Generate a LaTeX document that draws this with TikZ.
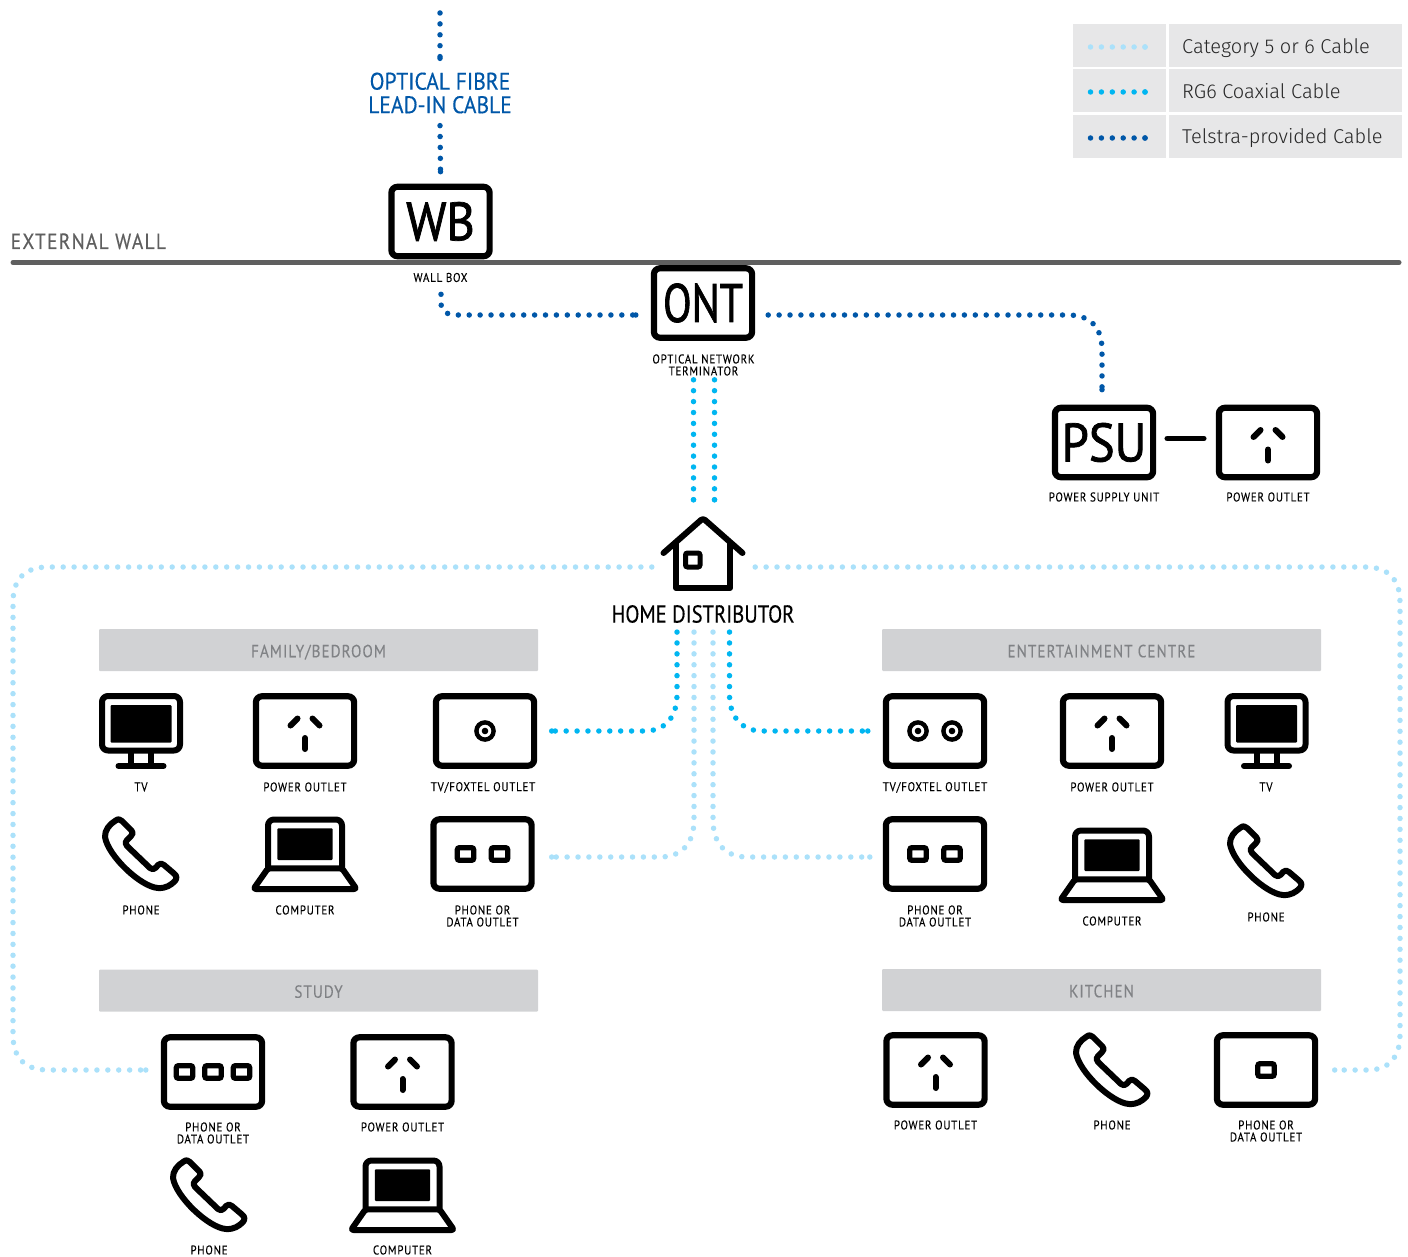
\documentclass[tikz,border=0pt]{standalone}
\usepackage{fontspec}
\usetikzlibrary{decorations.markings}
\setmainfont{PT Sans}
\newfontfamily\dinfont[FakeStretch=0.84,FakeBold=0.25]{PT Sans}
\newfontfamily\dinwide[FakeStretch=0.9,FakeBold=0.4]{PT Sans}
\newfontfamily\dinabbr[FakeStretch=0.9,FakeBold=1.4]{PT Sans}
\newfontfamily\dinlabel[FakeStretch=0.86,LetterSpace=6,FakeBold=0.15]{PT Sans}
\newfontfamily\dinwall[FakeStretch=0.88,LetterSpace=6,FakeBold=0.4]{PT Sans}
\newfontfamily\legendfont{Fira Sans Light}
\definecolor{telstra}{HTML}{0057A8}
\definecolor{coax}{HTML}{00B6F1}
\definecolor{cat}{HTML}{ABE1FA}
\definecolor{wallgrey}{HTML}{5F5F5F}
\definecolor{banner}{HTML}{D1D2D4}
\definecolor{bannertext}{HTML}{808285}
\definecolor{cell}{HTML}{E7E7E8}
\tikzset{
  x=1pt,y=-1pt,
  cable/.style={line width=5.5pt,line cap=round,dash pattern=on 0pt off 10.9pt,
    postaction={decorate,decoration={markings,mark=at position 1 with {\fill[#1] (0,0) circle[radius=2.75pt];}}},draw=#1},
  telstraline/.style={cable=telstra},
  coaxline/.style={cable=coax},
  catline/.style={cable=cat},
  devbox/.style={draw=black,line width=6.2pt,rounded corners=6pt,minimum width=98.2pt,minimum height=69.4pt,inner sep=0pt,fill=white},
  abbr/.style={font=\dinabbr\fontsize{54}{54}\selectfont},
  lbl/.style={font=\dinlabel\fontsize{12.7}{13}\selectfont,align=center,inner sep=0pt,text=black},
  ghost/.style={inner sep=0pt,minimum width=84pt,minimum height=76pt},
  bannerbox/.style={fill=banner,rounded corners=1pt,minimum width=439pt,minimum height=42pt,inner sep=0pt,text height=14.5pt,text depth=0pt,font=\dinlabel\fontsize{17.6}{18}\selectfont,text=bannertext},
  cellbox/.style={fill=cell,inner sep=0pt,minimum height=43.5pt},
  legtext/.style={font=\legendfont\fontsize{20}{22}\selectfont,text=black!85,anchor=base west,inner sep=0pt},
  ink/.style={draw=black,line width=6pt,line cap=round,line join=round},
  pics/pins/.style={code={
    \draw[ink] (-14.5,-5.5) -- (-7.5,-12.5);
    \draw[ink] (14.5,-5.5) -- (7.5,-12.5);
    \draw[ink] (0,7) -- (0,18);
  }},
  pics/ring/.style={code={
    \draw[draw=black,line width=4.4pt] (0,0) circle[radius=8.6pt];
    \fill[black] (0,0) circle[radius=3.3pt];
  }},
  pics/sock/.style={code={
    \draw[draw=black,line width=5.2pt,rounded corners=2pt] (-8.2,-6.3) rectangle (8.2,6.3);
  }},
  pics/tvicon/.style={code={
    \draw[ink,rounded corners=6pt] (-39,-35) rectangle (39,19.5);
    \fill[black,rounded corners=1pt] (-30.5,-26) rectangle (30.5,11.5);
    \draw[draw=black,line width=6pt] (-10,19.5) -- (-10,35) (10,19.5) -- (10,35);
    \draw[ink] (-22.5,35) -- (22.5,35);
  }},
  pics/phoneicon/.style={code={
    \draw[ink] (-26,-33) .. controls (-23,-35.5) and (-21,-35) .. (-19,-33) -- (-9.5,-23.5)
      .. controls (-7.5,-21.5) and (-8,-20) .. (-10,-18) -- (-14,-14)
      .. controls (-16,-12) and (-16,-10.5) .. (-14,-8) -- (9,14)
      .. controls (11,16) and (13,15.5) .. (15,13.5) -- (17,11)
      .. controls (19,9) and (21,9) .. (23,11) -- (33,19.5)
      .. controls (36,22) and (36,24) .. (34,27)
      .. controls (30,31) and (25,34.5) .. (17,34)
      .. controls (0,33) and (-33,2) .. (-36,-17)
      .. controls (-36.5,-24) and (-31,-30) .. (-26,-33) -- cycle;
  }},
  pics/laptopicon/.style={code={
    \draw[ink,rounded corners=6pt] (-37,14.3) -- (-37,-34.5) -- (37,-34.5) -- (37,14.3);
    \fill[black,rounded corners=1pt] (-27.7,-25.7) rectangle (27.7,6);
    \draw[ink,rounded corners=2.5pt] (-37,14.3) -- (37,14.3) -- (51.5,35) -- (-51.5,35) -- cycle;
  }},
  pics/houseicon/.style={code={
    \draw[ink] (-39.5,0) -- (-2,-33) .. controls (-1,-34) and (1,-34) .. (2,-33) -- (39.5,0);
    \draw[ink] (-27,-10) -- (-27,35) -- (27,35) -- (27,-10);
    \draw[draw=black,line width=5pt,rounded corners=2pt] (-17.5,0) rectangle (-3,14);
  }},
}
\newcommand{\device}[4]{\node[devbox,abbr] (#1) at (#2,#3) {#4};}
\newcommand{\blank}[3]{\node[devbox] (#1) at (#2,#3) {};}
\newcommand{\ghostat}[3]{\node[ghost] (#1) at (#2,#3) {};}
\begin{document}
\begin{tikzpicture}
\useasboundingbox (0,0) rectangle (1408,1257);
% wall
\coordinate (wallL) at (13,262.5);
\coordinate (wallR) at (1399,262.5);
\draw[wallgrey,line width=5pt,line cap=round] (wallL) -- (wallR);
\node[font=\dinwall\fontsize{22}{22}\selectfont,text=wallgrey,anchor=base west,inner sep=0pt] (extwall) at (10.5,249) {EXTERNAL WALL};
% legend
\node[cellbox,minimum width=93pt] (c1) at (1119.5,45.5) {};
\node[cellbox,minimum width=233pt] (d1) at (1285.5,45.5) {};
\node[cellbox,minimum width=93pt] (c2) at (1119.5,90.5) {};
\node[cellbox,minimum width=233pt] (d2) at (1285.5,90.5) {};
\node[cellbox,minimum width=93pt] (c3) at (1119.5,136.5) {};
\node[cellbox,minimum width=233pt] (d3) at (1285.5,136.5) {};
\node[legtext] (t1) at (1182,53.2) {Category 5 or 6 Cable};
\node[legtext] (t2) at (1182,98.2) {RG6 Coaxial Cable};
\node[legtext] (t3) at (1182,143.2) {Telstra-provided Cable};
\draw[catline] ([xshift=-29pt,yshift=-1.5pt]c1.center) -- ([xshift=25.5pt,yshift=-1.5pt]c1.center);
\draw[coaxline] ([xshift=-29pt,yshift=-1.5pt]c2.center) -- ([xshift=25.5pt,yshift=-1.5pt]c2.center);
\draw[telstraline] ([xshift=-29pt,yshift=-1.5pt]c3.center) -- ([xshift=25.5pt,yshift=-1.5pt]c3.center);
% top devices
\node[font=\dinwide\fontsize{24}{24}\selectfont,text=telstra,align=center,inner sep=0pt] (fibre) at (440,93) {OPTICAL FIBRE\\[-0.5pt]LEAD-IN CABLE};
\coordinate (fibretop) at (440,13);
\device{wb}{440.5}{221.5}{WB}
\node[lbl] (wblabel) at (440.5,277.5) {WALL BOX};
\device{ont}{703}{303}{\scalebox{0.86}[1]{ONT}}
\node[lbl] (ontlabel) at (703.5,365) {OPTICAL NETWORK\\[-1pt]TERMINATOR};
\device{psu}{1104}{442.5}{PSU}
\blank{po0}{1268}{442.5}
\pic at (po0) {pins};
\node[lbl] (psulabel) at (1104,497) {POWER SUPPLY UNIT};
\node[lbl] (po0label) at (1268,497) {POWER OUTLET};
\draw[draw=black,line width=5.5pt,line cap=round] ([xshift=11pt,yshift=4pt]psu.east) -- ([xshift=-12pt,yshift=4pt]po0.west);
\draw[telstraline] (fibretop) -- ([yshift=14pt]fibre.north);
\draw[telstraline] ([yshift=-12pt]fibre.south) -- ([yshift=12pt]wb.north);
\draw[telstraline] ([xshift=0.5pt,yshift=-12pt]wblabel.south) -- (441,303) .. controls (441,311) and (447,315) .. (456,315) -- ([xshift=-15pt,yshift=-12pt]ont.west);
\draw[telstraline] ([xshift=13pt,yshift=-12pt]ont.east) -- (1068,315) .. controls (1090,315) and (1102,327) .. (1102,350) -- ([xshift=-2pt,yshift=15pt]psu.north);
% home distributor
\ghostat{hd}{703}{553}
\pic at (hd) {houseicon};
\node[font=\dinfont\fontsize{24.5}{25}\selectfont,inner sep=0pt] (hdlabel) at (703,614) {HOME DISTRIBUTOR};
\draw[coaxline] ([xshift=-9.5pt,yshift=-39pt]ont.south) -- ([xshift=-9.5pt,yshift=15pt]hd.north);
\draw[coaxline] ([xshift=11.5pt,yshift=-39pt]ont.south) -- ([xshift=11.5pt,yshift=15pt]hd.north);
% banners
\node[bannerbox] (family) at (318.5,650) {FAMILY/BEDROOM};
\node[bannerbox] (ent) at (1101.5,650) {ENTERTAINMENT CENTRE};
\node[bannerbox] (study) at (318.5,990.5) {STUDY};
\node[bannerbox] (kitchen) at (1101.5,990) {KITCHEN};
% family
\ghostat{f1}{141}{731} \pic at (f1) {tvicon};
\blank{f2}{305}{731} \pic at (f2) {pins};
\blank{f3}{485}{731} \pic at (f3) {ring};
\ghostat{f4}{141}{854} \pic at (f4) {phoneicon};
\ghostat{f5}{305}{854} \pic at (f5) {laptopicon};
\blank{f6}{482.5}{854}
\pic at ([xshift=-17pt]f6.center) {sock}; \pic at ([xshift=17pt]f6.center) {sock};
\node[lbl] (f1l) at (141,787) {TV};
\node[lbl] (f2l) at (305,787) {POWER OUTLET};
\node[lbl] (f3l) at (483,787.5) {TV/FOXTEL OUTLET};
\node[lbl] (f4l) at (141,910) {PHONE};
\node[lbl] (f5l) at (305,910) {COMPUTER};
\node[lbl] (f6l) at (482.5,916) {PHONE OR\\[-1pt]DATA OUTLET};
% entertainment
\blank{e1}{935}{731} \pic at ([xshift=-17pt]e1.center) {ring}; \pic at ([xshift=17pt]e1.center) {ring};
\blank{e2}{1112}{731} \pic at (e2) {pins};
\ghostat{e3}{1266.5}{731} \pic at (e3) {tvicon};
\blank{e4}{935}{854}
\pic at ([xshift=-17pt]e4.center) {sock}; \pic at ([xshift=17pt]e4.center) {sock};
\ghostat{e5}{1112}{865} \pic at (e5) {laptopicon};
\ghostat{e6}{1266}{861} \pic at (e6) {phoneicon};
\node[lbl] (e1l) at (935,787.5) {TV/FOXTEL OUTLET};
\node[lbl] (e2l) at (1112,787) {POWER OUTLET};
\node[lbl] (e3l) at (1266,787) {TV};
\node[lbl] (e4l) at (935,916) {PHONE OR\\[-1pt]DATA OUTLET};
\node[lbl] (e5l) at (1112,921) {COMPUTER};
\node[lbl] (e6l) at (1266,917) {PHONE};
% study
\blank{s1}{213}{1072}
\pic at ([xshift=-28.5pt]s1.center) {sock}; \pic at (s1) {sock}; \pic at ([xshift=28.5pt]s1.center) {sock};
\blank{s2}{402.5}{1072} \pic at (s2) {pins};
\ghostat{s3}{209}{1195} \pic at (s3) {phoneicon};
\ghostat{s4}{402.5}{1195} \pic at (s4) {laptopicon};
\node[lbl] (s1l) at (213,1133) {PHONE OR\\[-1pt]DATA OUTLET};
\node[lbl] (s2l) at (402.5,1127) {POWER OUTLET};
\node[lbl] (s3l) at (209,1250) {PHONE};
\node[lbl] (s4l) at (402.5,1250) {COMPUTER};
% kitchen
\blank{k1}{935.5}{1070} \pic at (k1) {pins};
\ghostat{k2}{1112}{1070} \pic at (k2) {phoneicon};
\blank{k3}{1266}{1070} \pic at (k3) {sock};
\node[lbl] (k1l) at (935.5,1125) {POWER OUTLET};
\node[lbl] (k2l) at (1112,1125) {PHONE};
\node[lbl] (k3l) at (1266,1131) {PHONE OR\\[-1pt]DATA OUTLET};
% light home-run loops
\draw[catline] ([xshift=-9pt,yshift=-14pt]hd.west) -- (48,567) .. controls (25,567) and (13,579) .. (13,602) -- (13,1035) .. controls (13,1058) and (25,1070) .. (48,1070) -- ([xshift=-15pt,yshift=2pt]s1.west);
\draw[catline] ([xshift=10pt,yshift=-14pt]hd.east) -- (1365,567) .. controls (1388,567) and (1400,579) .. (1400,602) -- (1400,1035) .. controls (1400,1058) and (1388,1070) .. (1368,1070) -- ([xshift=16.5pt]k3.east);
% coax to outlets
\draw[coaxline] ([xshift=-26pt,yshift=-9pt]hdlabel.south) -- (677,695) .. controls (677,717) and (665,731) .. (645,731) -- ([xshift=14.5pt]f3.east);
\draw[coaxline] ([xshift=26.5pt,yshift=-9pt]hdlabel.south) -- (729.5,695) .. controls (729.5,717) and (742,731) .. (762,731) -- ([xshift=-15pt]e1.west);
% cat to outlets
\draw[catline] ([xshift=-9pt,yshift=-9pt]hdlabel.south) -- (694,820) .. controls (694,843) and (682,857) .. (660,857) -- ([xshift=17pt,yshift=-3pt]f6.east);
\draw[catline] ([xshift=10pt,yshift=-9pt]hdlabel.south) -- (713,820) .. controls (713,843) and (725,857) .. (747,857) -- ([xshift=-13pt,yshift=-3pt]e4.west);
\end{tikzpicture}
\end{document}
